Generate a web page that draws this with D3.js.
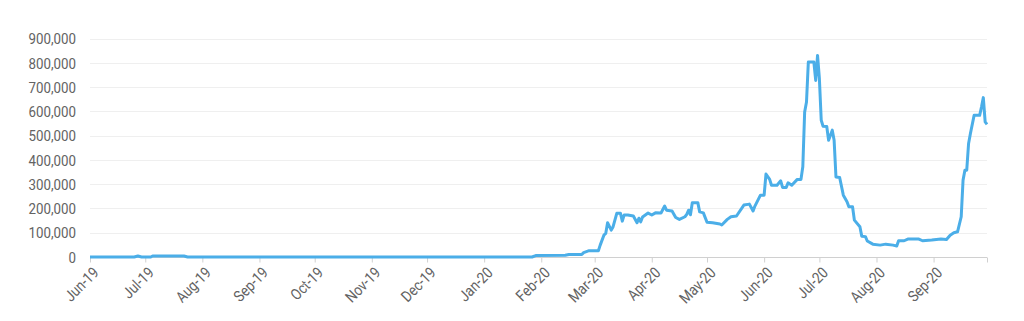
<!DOCTYPE html>
<html>
<head>
<meta charset="utf-8">
<script src="https://cdn.jsdelivr.net/npm/d3@7"></script>
<style>
  html, body { margin: 0; padding: 0; background: #ffffff; }
  svg { display: block; }
  .lbl { font-family: "Roboto", "Liberation Sans", sans-serif; fill: #636363; }
</style>
</head>
<body>
<svg id="chart" width="1024" height="321"></svg>
<script>
const dates = [
  "2019-06-01","2019-06-25","2019-06-27","2019-06-29","2019-07-04","2019-07-05","2019-07-22","2019-07-24",
  "2020-01-27","2020-01-29","2020-02-14","2020-02-16","2020-02-23","2020-02-24","2020-02-27","2020-03-03",
  "2020-03-04","2020-03-06","2020-03-07","2020-03-08","2020-03-10","2020-03-11","2020-03-13","2020-03-15",
  "2020-03-16","2020-03-17","2020-03-19","2020-03-22","2020-03-24","2020-03-25","2020-03-26","2020-03-27",
  "2020-03-30","2020-04-01","2020-04-03","2020-04-06","2020-04-07","2020-04-08","2020-04-09","2020-04-12",
  "2020-04-14","2020-04-16","2020-04-19","2020-04-20","2020-04-21","2020-04-22","2020-04-23","2020-04-26",
  "2020-04-27","2020-04-29","2020-05-01","2020-05-04","2020-05-08","2020-05-09","2020-05-12","2020-05-14",
  "2020-05-17","2020-05-21","2020-05-24","2020-05-26","2020-05-27","2020-05-30","2020-06-01","2020-06-02",
  "2020-06-04","2020-06-05","2020-06-08","2020-06-10","2020-06-11","2020-06-13","2020-06-14","2020-06-16",
  "2020-06-19","2020-06-21","2020-06-22","2020-06-23","2020-06-24","2020-06-25","2020-06-28","2020-06-29",
  "2020-06-30","2020-07-01","2020-07-02","2020-07-03","2020-07-05","2020-07-06","2020-07-08","2020-07-09",
  "2020-07-10","2020-07-12","2020-07-14","2020-07-16","2020-07-17","2020-07-19","2020-07-20","2020-07-23",
  "2020-07-24","2020-07-26","2020-07-27","2020-07-30","2020-08-03","2020-08-06","2020-08-10","2020-08-12",
  "2020-08-13","2020-08-16","2020-08-18","2020-08-24","2020-08-26","2020-08-31","2020-09-05","2020-09-08",
  "2020-09-10","2020-09-12","2020-09-14","2020-09-16","2020-09-17","2020-09-18","2020-09-19","2020-09-20",
  "2020-09-21","2020-09-23","2020-09-26","2020-09-27","2020-09-28","2020-09-29","2020-09-30"
];
const values = [
  0,0,4000,0,0,4000,4000,0,
  0,6000,7000,10000,10000,18000,26000,26000,
  49000,90000,97000,141000,111000,125000,180000,180000,
  148000,173000,173000,169000,141000,160000,145000,165000,
  181000,173000,182000,181000,196000,210000,193000,190000,
  163000,155000,166000,176000,193000,174000,224000,224000,
  186000,182000,143000,141000,136000,132000,155000,166000,
  169000,214000,218000,190000,210000,255000,255000,342000,
  320000,296000,296000,314000,287000,287000,306000,296000,
  320000,320000,372000,598000,639000,804000,804000,728000,
  831000,735000,564000,539000,538000,481000,523000,481000,
  330000,328000,255000,228000,207000,207000,152000,125000,
  86000,84000,66000,53000,49000,53000,49000,45000,
  67000,67000,74000,74000,67000,70000,74000,72000,
  90000,100000,104000,166000,317000,358000,358000,468000,
  509000,584000,584000,618000,657000,557000,547000
];
const yTicks = [0,100000,200000,300000,400000,500000,600000,700000,800000,900000];
const xTickLabels = ["Jun-19","Jul-19","Aug-19","Sep-19","Oct-19","Nov-19","Dec-19","Jan-20","Feb-20","Mar-20","Apr-20","May-20","Jun-20","Jul-20","Aug-20","Sep-20"];

(function () {
const parse = d3.timeParse("%Y-%m-%d");
const data = dates.map((d, i) => ({ date: parse(d), value: values[i] }));

const svg = d3.select("#chart");
const mLeft = 90, mRight = 987, mTop = 38.7, mBottom = 257;
const squeeze = 0.86;

const x = d3.scaleTime()
  .domain([parse("2019-06-01"), parse("2020-09-30")])
  .range([mLeft, mRight]);
const y = d3.scaleLinear().domain([0, 900000]).range([mBottom, mTop]);

const tickDates = d3.timeMonth.range(parse("2019-06-01"), parse("2020-09-02"));

// gridlines
svg.append("g").selectAll("line")
  .data(yTicks.filter(v => v > 0))
  .join("line")
  .attr("x1", mLeft).attr("x2", mRight)
  .attr("y1", d => Math.round(y(d)) + 0.5).attr("y2", d => Math.round(y(d)) + 0.5)
  .attr("stroke", "#efefef").attr("stroke-width", 1.2);

// y labels
svg.append("g").selectAll("text")
  .data(yTicks)
  .join("text")
  .attr("class", "lbl")
  .attr("transform", d => `translate(76,${y(d)}) scale(${squeeze},1)`)
  .attr("dy", "0.36em")
  .attr("text-anchor", "end")
  .style("font-size", "15.5px")
  .text(d => d3.format(",")(d));

// x axis
const xAxis = d3.axisBottom(x)
  .tickValues(tickDates.concat([parse("2020-09-30")]))
  .tickSize(5)
  .tickFormat("");
const gx = svg.append("g").attr("transform", `translate(0,${mBottom + 0.5})`).call(xAxis);
gx.select(".domain").attr("stroke", "#d0d0d0").attr("d", `M${mLeft},0H${mRight}`);
gx.selectAll(".tick line").attr("stroke", "#d0d0d0");

// x labels
svg.append("g").selectAll("text")
  .data(tickDates)
  .join("text")
  .attr("class", "lbl")
  .attr("text-anchor", "end")
  .style("font-size", "15.5px")
  .attr("transform", d => `translate(${x(d) + 2},${mBottom + 9}) rotate(-45) scale(${squeeze},1)`)
  .attr("dy", "0.7em")
  .text((d, i) => xTickLabels[i]);

// line
const line = d3.line().x(d => x(d.date)).y(d => y(d.value));
svg.append("path")
  .datum(data)
  .attr("fill", "none")
  .attr("stroke", "#4baee8")
  .attr("stroke-width", 3)
  .attr("stroke-linejoin", "round")
  .attr("d", line);
})();
</script>
</body>
</html>
